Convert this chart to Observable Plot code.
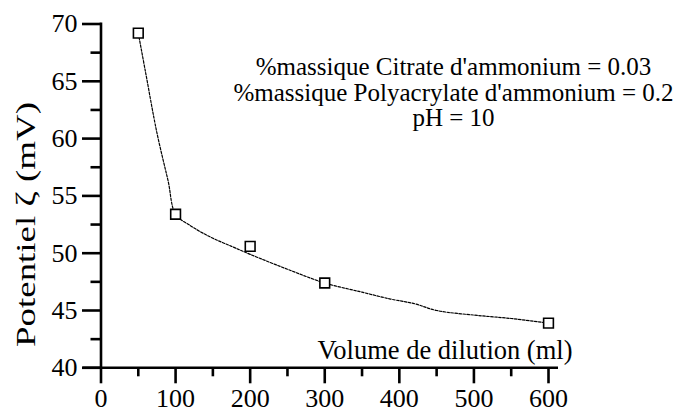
<!DOCTYPE html>
<html>
<head>
<meta charset="utf-8">
<script src="https://cdn.jsdelivr.net/npm/d3@7"></script>
<script src="https://cdn.jsdelivr.net/npm/@observablehq/plot@0.6"></script>
<style>
  html, body { margin: 0; padding: 0; background: white; }
</style>
</head>
<body>
<div id="chart"></div>
<script>
// Measured points
const volume = [50, 100, 200, 300, 600];
const potential = [69.2, 53.4, 50.6, 47.4, 43.9];

// Fitted dashed curve
const curveVolume = [50, 60, 75, 90, 100, 120, 147, 175, 200, 250, 300, 350, 388, 420, 450, 500, 550, 600];
const curvePotential = [69.2, 65.7, 60.5, 56.3, 53.4, 52.4, 51.4, 50.6, 49.9, 48.6, 47.4, 46.6, 46.0, 45.6, 45.0, 44.6, 44.3, 43.9];

// Axis ticks
const xMajorTicks = [0, 100, 200, 300, 400, 500, 600];
const xMinorTicks = [50, 150, 250, 350, 450, 550];
const yMajorTicks = [40, 45, 50, 55, 60, 65, 70];
const yMinorTicks = [42.5, 47.5, 52.5, 57.5, 62.5, 67.5];

// Texts
const xLabel = "Volume de dilution (ml)";
const yLabel = "Potentiel ζ (mV)";
const annotationLines = [
  "%massique Citrate d'ammonium = 0.03",
  "%massique Polyacrylate d'ammonium = 0.2",
  "pH = 10"
];

const points = volume.map((v, i) => ({x: v, y: potential[i]}));
const curve = curveVolume.map((v, i) => ({x: v, y: curvePotential[i]}));

const font = "'Liberation Serif', 'Times New Roman', serif";

const chart = Plot.plot({
  width: 691,
  height: 413,
  marginLeft: 100.5,
  marginRight: 143,
  marginTop: 23.5,
  marginBottom: 45.7,
  style: {fontFamily: font, fontSize: "26px", color: "black", background: "white", overflow: "visible"},
  x: {domain: [0, 600]},
  y: {domain: [40, 70]},
  marks: [
    Plot.ruleY([40], {stroke: "black", strokeWidth: 2.6, insetLeft: -18, insetRight: -10}),
    Plot.ruleX([0], {stroke: "black", strokeWidth: 2.6, insetTop: -1}),
    Plot.axisX({ticks: xMajorTicks, tickSize: 16, tickPadding: 5, strokeWidth: 2.6, fontSize: 26, label: null, tickFormat: d => String(d)}),
    Plot.axisX({ticks: xMinorTicks, tickSize: 9, strokeWidth: 2.6, text: null, label: null}),
    Plot.axisY({ticks: yMajorTicks, tickSize: 18.5, tickPadding: 5, strokeWidth: 2.6, fontSize: 26, label: null, tickFormat: d => String(d)}),
    Plot.axisY({ticks: yMinorTicks, tickSize: 10, strokeWidth: 2.6, text: null, label: null}),
    Plot.line(curve, {x: "x", y: "y", curve: "catmull-rom", stroke: "black", strokeWidth: 1.2, strokeDasharray: "2.5,1.5"}),
    Plot.dot(points, {x: "x", y: "y", symbol: "square", r: 5.5, stroke: "black", strokeWidth: 1.6, fill: "white"}),
    Plot.text([xLabel], {frameAnchor: "bottom-right", textAnchor: "end", lineAnchor: "bottom", dx: 24, dy: -9.3, fontSize: 26.5, fill: "black"}),
    Plot.text([yLabel], {frameAnchor: "left", rotate: -90, textAnchor: "middle", lineAnchor: "bottom", dx: -66, dy: 28.6, fontSize: 28, fill: "black"}),
    Plot.text([annotationLines.join("\n")], {frameAnchor: "top", textAnchor: "middle", lineAnchor: "top", lineHeight: 1.02, dx: 128.75, dy: 33, fontSize: 25, fill: "black"})
  ]
});

// The reference's y title is set in a wide face: stretch it along its baseline
d3.select(chart).selectAll("text")
  .filter(function() { return this.textContent === yLabel; })
  .attr("transform", function() { return (this.getAttribute("transform") || "") + " scale(1.32,1)"; });

document.getElementById("chart").appendChild(chart);
</script>
</body>
</html>
